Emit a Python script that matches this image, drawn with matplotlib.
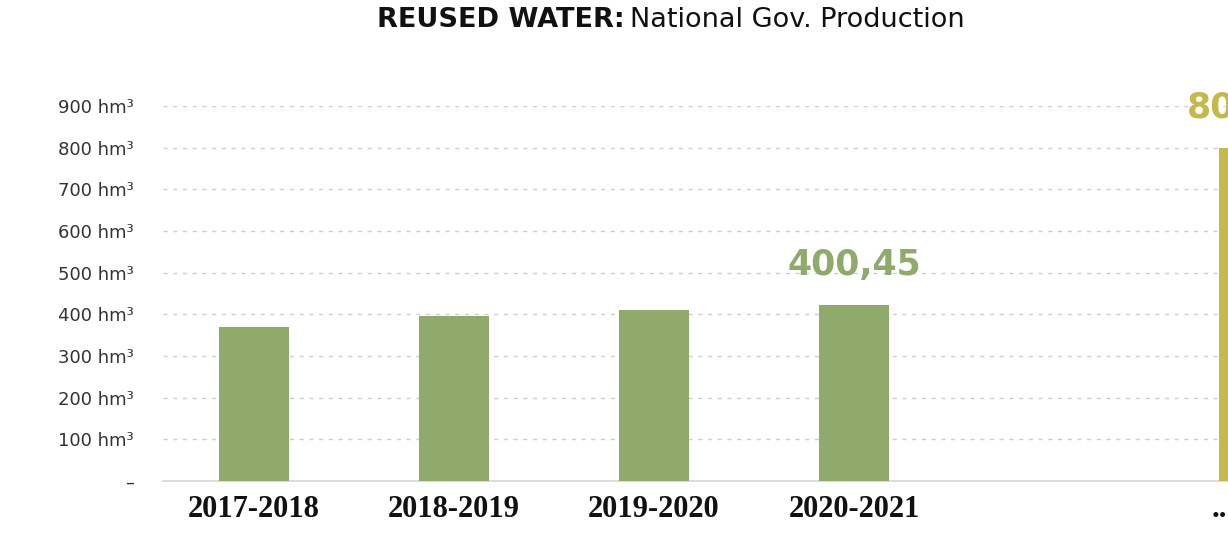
import matplotlib.pyplot as plt

# ----------------------------
# Data
# ----------------------------
periods = ['2017-2018', '2018-2019', '2019-2020', '2020-2021', '...']
positions = [0, 1, 2, 3, 5]
volumes = [370, 396, 410, 422, 800]
bar_colors = ['#8faa6a', '#8faa6a', '#8faa6a', '#8faa6a', '#c4b94a']
value_labels = [None, None, None, '400,45', '800']
y_ticks = [0, 100, 200, 300, 400, 500, 600, 700, 800, 900]
y_tick_labels = ['–', '100 hm³', '200 hm³', '300 hm³', '400 hm³', '500 hm³',
                 '600 hm³', '700 hm³', '800 hm³', '900 hm³']

fig = plt.figure(figsize=(12.28, 5.34), dpi=100)
ax = fig.add_axes([163 / 1228, 53 / 534, 1 - 163 / 1228, 375 / 534])

ax.bar(positions, volumes, width=0.35, color=bar_colors, zorder=3)

# grid + axes styling
ax.set_yticks(y_ticks)
ax.set_yticklabels(y_tick_labels, fontsize=13, color='#333333', family='DejaVu Sans')
ax.yaxis.grid(True, color='#cfcfcf', linestyle=(0, (3, 4)), linewidth=1.0, zorder=0)
ax.tick_params(axis='y', length=0, pad=21)
for side in ['top', 'right', 'left']:
    ax.spines[side].set_visible(False)
ax.spines['bottom'].set_color('#d6d6d6')
ax.spines['bottom'].set_linewidth(1.2)

# the last category falls outside the view, so only the first four get real ticks
ax.set_xticks(positions[:-1])
ax.set_xticklabels(periods[:-1], fontsize=22, fontweight='bold', family='Liberation Serif', color='#111111')
ax.tick_params(axis='x', length=0, pad=10)

ax.set_xlim(-0.455, 4.87)
ax.set_ylim(0, 900)

# last category label, sits a bit left of its bar (cut by the edge)
ax.annotate(periods[-1], (positions[-1], 0), xytext=(-22, -10), textcoords='offset points',
            ha='center', va='top', fontsize=22, fontweight='bold', family='Liberation Serif',
            color='#111111', annotation_clip=False)

# value labels
for x, v, lab, c in zip(positions, volumes, value_labels, bar_colors):
    if lab is None:
        continue
    dx = -22 if x == positions[-1] else 0
    ax.annotate(lab, (x, v), xytext=(dx, 17), textcoords='offset points',
                ha='center', va='bottom', fontsize=25, fontweight='bold',
                color=c, family='DejaVu Sans', annotation_clip=False)

# title in two weights
fig.text(625 / 1228, 1 - 20 / 534, 'REUSED WATER:', ha='right', va='center',
         fontsize=19.5, fontweight='bold', color='#111111', family='DejaVu Sans')
fig.text(630 / 1228, 1 - 20 / 534, 'National Gov. Production', ha='left', va='center',
         fontsize=19.5, color='#111111', family='DejaVu Sans')

fig.savefig('out.png', dpi=100)
